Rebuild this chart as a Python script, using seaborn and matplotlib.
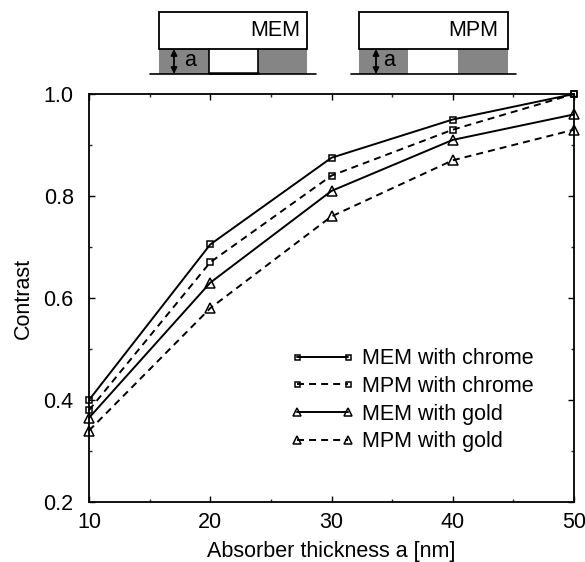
"""Contrast vs absorber thickness for MEM and MPM masks."""

import copy

import matplotlib.pyplot as plt
import pandas as pd
import seaborn as sns
from matplotlib.legend_handler import HandlerLine2D
from matplotlib.lines import Line2D
from matplotlib.patches import Rectangle

thickness = [10, 20, 30, 40, 50]
mem_chrome = [0.40, 0.705, 0.875, 0.95, 1.0]
mpm_chrome = [0.38, 0.67, 0.84, 0.93, 1.0]
mem_gold = [0.365, 0.63, 0.81, 0.91, 0.96]
mpm_gold = [0.34, 0.58, 0.76, 0.87, 0.93]
series_names = ["MEM with chrome", "MPM with chrome", "MEM with gold", "MPM with gold"]

W, H = 585, 562
FONT = 15.5

sns.set_theme(style="ticks")
plt.rcParams["font.family"] = ["Liberation Sans", "DejaVu Sans"]
plt.rcParams["text.color"] = "black"
plt.rcParams["axes.labelcolor"] = "black"

df = pd.DataFrame(
    {"thickness": thickness * 4,
     "contrast": mem_chrome + mpm_chrome + mem_gold + mpm_gold,
     "series": [name for name in series_names for _ in thickness]}
)

fig = plt.figure(figsize=(W / 100, H / 100), dpi=100)
ax = fig.add_axes([89 / W, 1 - 502 / H, 485 / W, 408 / H])

sns.lineplot(
    data=df, x="thickness", y="contrast", style="series", style_order=series_names,
    markers=["s", "s", "^", "^"], dashes=[(None, None), (3.6, 2.6), (None, None), (3.6, 2.6)],
    color="black", linewidth=1.4, markerfacecolor="none",
    markeredgecolor="black", markeredgewidth=1.1, clip_on=False, zorder=3, ax=ax, legend=False,
)

lines = [line for line in ax.get_lines() if len(line.get_xdata()) == len(thickness)]
for line in lines:
    line.set_markersize(4.8 if line.get_marker() == "s" else 7)

ax.set_xlim(10, 50)
ax.set_ylim(0.2, 1.0)
ax.set_xticks(thickness)
ax.set_xticks(range(15, 50, 10), minor=True)
ax.set_yticks([0.2, 0.4, 0.6, 0.8, 1.0])
ax.set_yticks([0.3, 0.5, 0.7, 0.9], minor=True)
ax.tick_params(which="major", direction="in", top=True, right=True, length=4, width=1,
               labelsize=FONT, colors="black")
ax.tick_params(axis="x", which="major", pad=7.5)
ax.tick_params(axis="y", which="major", pad=11)
ax.tick_params(which="minor", direction="in", top=True, right=True, length=2.5, width=1)
ax.set_xlabel("Absorber thickness a [nm]", fontsize=FONT, labelpad=5.5)
ax.set_ylabel("Contrast", fontsize=FONT, labelpad=7)
for spine in ax.spines.values():
    spine.set_visible(True)
    spine.set_linewidth(1.3)
    spine.set_color("black")

# legend keys carry smaller markers than the curves
handles = []
for line in lines:
    key = copy.copy(line)
    key.set_markersize(3.6 if line.get_marker() == "s" else 6)
    handles.append(key)
ax.legend(handles, series_names, loc="lower left", bbox_to_anchor=(0.429, 0.122), frameon=False,
          fontsize=FONT, numpoints=2, handlelength=2.35, handletextpad=0.65,
          labelspacing=0.31, borderpad=0, borderaxespad=0,
          handler_map={Line2D: HandlerLine2D(marker_pad=0)})

# mask schematics, drawn in pixel coordinates
over = fig.add_axes([0, 0, 1, 1], zorder=5)
over.set_xlim(0, W)
over.set_ylim(H, 0)
over.axis("off")


def mask(x0, x1, gap0, gap1, base0, base1, name, name_x, arrow_x, a_x, floor):
    for left, right in [(x0, gap0), (gap1, x1)]:
        over.add_patch(Rectangle((left, 49), right - left, 24.5, fc="#858585", ec="none"))
    over.add_patch(Rectangle((x0, 12), x1 - x0, 37, fc="white", ec="black", lw=1.3))
    over.plot([base0, base1], [74, 74], color="black", lw=1.2)
    if floor:
        over.plot([gap0, gap0], [49, 73], color="black", lw=1.2)
        over.plot([gap1, gap1], [49, 73], color="black", lw=1.2)
        over.plot([gap0, gap1], [73, 73], color="black", lw=1.8)
    over.annotate("", xy=(arrow_x, 49), xytext=(arrow_x, 74),
                  arrowprops=dict(arrowstyle="<|-|>", color="black", lw=1.3,
                                  mutation_scale=9, shrinkA=0, shrinkB=0))
    over.text(a_x, 60, "a", fontsize=FONT, ha="center", va="center")
    over.text(name_x, 30, name, fontsize=FONT, ha="center", va="center")


mask(159, 307, 209, 258, 150, 316, "MEM", 275, 174, 190, True)
mask(359, 508, 408, 458, 351, 516, "MPM", 473, 376, 389, False)

fig.savefig("out.png", dpi=100)
